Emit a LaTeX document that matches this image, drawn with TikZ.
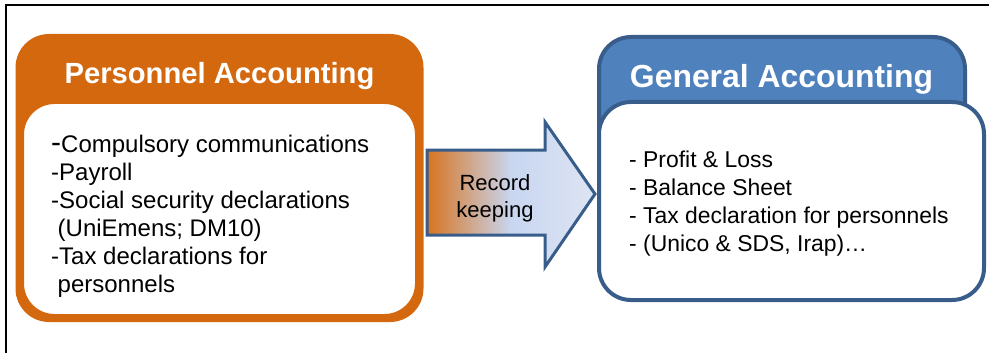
\documentclass[tikz,border=0pt]{standalone}
\usepackage{fontspec}
\setmainfont{Liberation Sans}
\usetikzlibrary{positioning}

\definecolor{persorange}{RGB}{212,104,14}
\definecolor{genblue}{RGB}{79,129,189}
\definecolor{genblueline}{RGB}{56,93,138}
\definecolor{recordblue}{RGB}{200,214,240}
\definecolor{recordpale}{RGB}{222,229,243}

% Fill of the arrow: orange tail fading into pale blue
\pgfdeclarehorizontalshading{recordshade}{100bp}{%
    color(0bp)=(persorange!92!white); color(25bp)=(persorange!92!white);
    color(50bp)=(recordblue); color(75bp)=(recordpale); color(100bp)=(recordpale)}

\begin{document}
\begin{tikzpicture}[
        x=1pt, y=-1pt,
        % Rounded boxes: coloured header box and white content box
        tabbox/.style={
                rectangle, rounded corners=32pt, line width=3pt
            },
        bodybox/.style={
                rectangle, rounded corners=32pt, fill=white, line width=3pt
            },
        % Text
        titletext/.style={
                text=white, anchor=base, inner sep=0pt
            },
        listtext/.style={
                align=left, anchor=north west, inner sep=0pt,
                font=\fontsize{23.5}{28}\selectfont
            }
    ]

    \useasboundingbox (0,0) rectangle (989,353);

    %% ---- Frame ----
    \draw[line width=2.5pt] (6,353) -- (6,5) -- (989,5);

    %% ---- Personnel accounting ----
    \node[tabbox, draw=persorange, fill=persorange,
        minimum width=405pt, minimum height=285pt] (persTab) at (219.5,178) {};
    \node[bodybox, draw=persorange,
        minimum width=394pt, minimum height=213pt] (persBody) at (219.5,209) {};
    \node[titletext, font=\fontsize{29.2}{30}\selectfont\bfseries]
        (persTitle) at (219.5,84) {Personnel Accounting};
    \node[listtext, font=\fontsize{24}{28}\selectfont] (persList) at (51,135)
        {{\fontsize{30}{28}\selectfont -}Compulsory communications\\
         -Payroll\\
         -Social security declarations\\
         \hspace*{6.5pt}(UniEmens; DM10)\\
         -Tax declarations for\\
         \hspace*{6.5pt}personnels};

    %% ---- Record keeping arrow ----
    \path[shading=recordshade, draw=genblueline, line width=3pt]
        (427,150) -- (545,150) -- (545,122) -- (595,194)
        -- (545,267) -- (545,235) -- (427,235) -- cycle;
    \node[font=\fontsize{22}{27}\selectfont, align=center, inner sep=0pt]
        (record) at (495,198) {Record\\keeping};

    %% ---- General accounting ----
    \node[tabbox, draw=genblueline, fill=genblue, line width=4pt,
        minimum width=366pt, minimum height=123pt] (genTab) at (782,98.5) {};
    \node[bodybox, draw=genblueline, line width=4pt,
        minimum width=385pt, minimum height=198pt] (genBody) at (791.5,201) {};
    \node[titletext, font=\fontsize{31.9}{33}\selectfont\bfseries]
        (genTitle) at (781.5,88) {General Accounting};
    \node[listtext, font=\fontsize{22.9}{28}\selectfont] (genList) at (629,151)
        {- Profit \& Loss\\
         - Balance Sheet\\
         - Tax declaration for personnels\\
         - (Unico \& SDS, Irap)…};

\end{tikzpicture}
\end{document}
